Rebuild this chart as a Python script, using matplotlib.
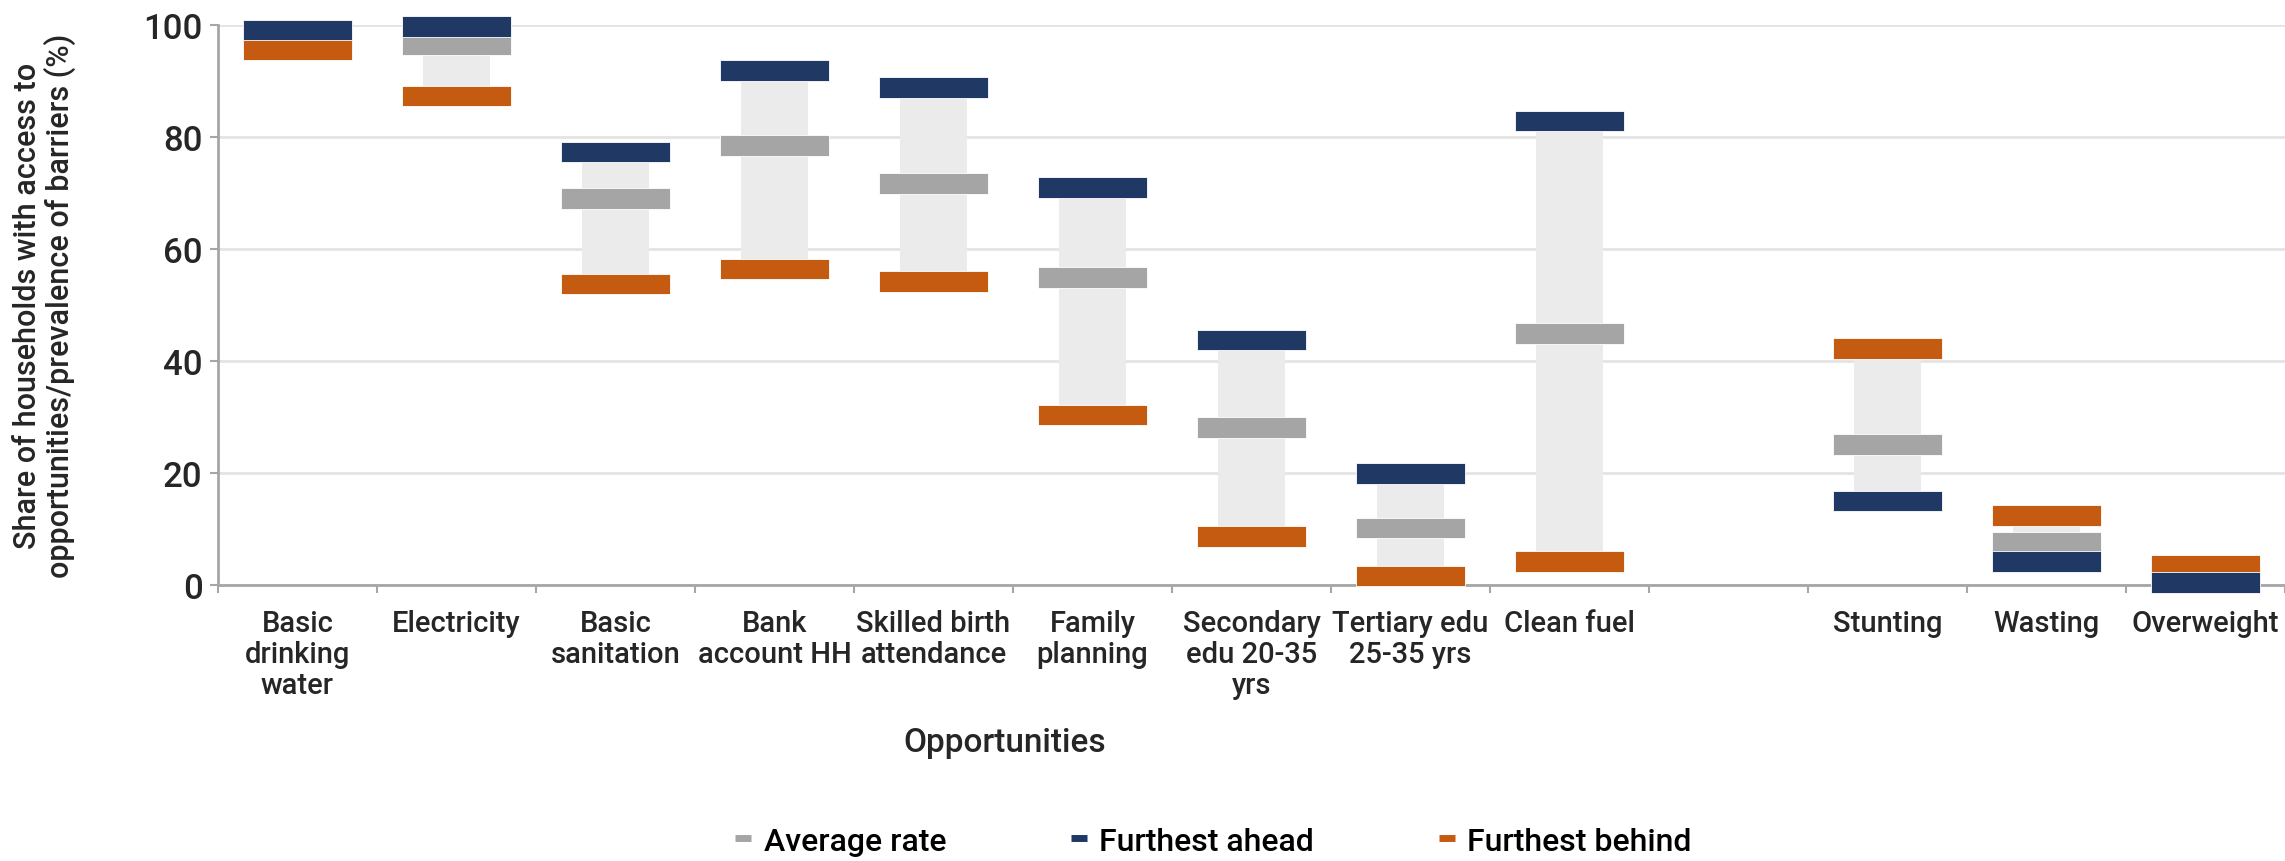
import matplotlib
matplotlib.use("Agg")
import matplotlib.pyplot as plt
import matplotlib.transforms as mtransforms
from matplotlib.lines import Line2D
import numpy as np

# ----------------------------------------
# Data: opportunities (left) and barriers (right), one empty slot between

categories = ["Basic\ndrinking\nwater", "Electricity", "Basic\nsanitation",
              "Bank\naccount HH", "Skilled birth\nattendance", "Family\nplanning",
              "Secondary\nedu 20-35\nyrs", "Tertiary edu\n25-35 yrs", "Clean fuel",
              "", "Stunting", "Wasting", "Overweight"]

average = [97.5, 96.5, 69.1, 78.5, 71.8, 55.0, 28.1, 10.2, 44.9, np.nan, 25.1, 7.6, 2.0]
ahead = [99.2, 99.8, 77.4, 91.9, 88.9, 71.0, 43.8, 19.9, 82.9, np.nan, 15.0, 4.2, 0.5]
behind = [95.7, 87.4, 53.8, 56.5, 54.2, 30.4, 8.7, 1.6, 4.2, np.nan, 42.3, 12.4, 3.5]

series_names = ["Average rate", "Furthest ahead", "Furthest behind"]
yticks = [0, 20, 40, 60, 80, 100]

# ----------------------------------------

c_avg = "#A5A5A5"
c_ahead = "#203864"
c_behind = "#C55A11"
c_range = "#EBEBEB"
c_text = "#262626"

plt.rcParams["font.family"] = ["Roboto", "DejaVu Sans"]
plt.rcParams["font.weight"] = "medium"

fig = plt.figure(figsize=(22.85, 8.62), dpi=100)
ax = fig.add_axes([0.0954, 0.3202, 0.9046, 0.6491])

x = np.arange(len(categories))
avg = np.array(average)
hi = np.array(ahead)
lo = np.array(behind)

# range between furthest ahead and furthest behind
rmin = np.fmin(hi, lo)
rmax = np.fmax(hi, lo)
ax.bar(x, rmax - rmin, bottom=rmin, width=0.42, color=c_range, zorder=2)

# thick horizontal markers for each group
mh = 3.7
mw = 0.68
for vals, col in [(avg, c_avg), (lo, c_behind), (hi, c_ahead)]:
    ax.bar(x, mh, bottom=vals - mh / 2, width=mw, color=col,
           edgecolor="white", linewidth=0.6, zorder=3, clip_on=False)

ax.set_xlim(-0.5, len(categories) - 0.5)
ax.set_ylim(0, 100)

ax.set_yticks(yticks)
ax.set_yticklabels([str(t) for t in yticks], fontsize=25, color=c_text)
ax.yaxis.grid(True, color="#E4E4E4", linewidth=2, zorder=0)
ax.set_axisbelow(True)

# category separators as major ticks, names as minor tick labels
ax.set_xticks(np.arange(-0.5, len(categories), 1.0))
ax.set_xticklabels([])
ax.set_xticks(x, minor=True)
ax.set_xticklabels(categories, minor=True, fontsize=21, color=c_text,
                   linespacing=1.15)
ax.tick_params(axis="x", which="minor", length=0, pad=17)
ax.tick_params(axis="x", which="major", length=6, width=1.5, color="#A6A6A6")
ax.tick_params(axis="y", length=6, width=1.5, color="#A6A6A6", pad=5)

for side in ["top", "right"]:
    ax.spines[side].set_visible(False)
for side in ["left", "bottom"]:
    ax.spines[side].set_color("#A6A6A6")
    ax.spines[side].set_linewidth(2)
    ax.spines[side].set_zorder(1)

fig.text(0.0195, 0.645,
         "Share of households with access to\nopportunities/prevalence of barriers (%)",
         rotation=90, ha="center", va="center", multialignment="center",
         fontsize=22, color=c_text, linespacing=1.05)

trans = mtransforms.blended_transform_factory(ax.transData, fig.transFigure)
fig.text(4.45, 0.138, "Opportunities", transform=trans, ha="center", va="center",
         fontsize=24, color=c_text)

handles = [Line2D([], [], color=c, linewidth=5, solid_capstyle="butt")
           for c in (c_avg, c_ahead, c_behind)]
fig.legend(handles, series_names, loc="center", bbox_to_anchor=(0.531, 0.023),
           ncol=3, frameon=False, handlelength=0.5,
           handletextpad=0.4, columnspacing=3.9,
           prop={"size": 23, "weight": "medium"})

fig.savefig("out.png", dpi=100, facecolor="white")
